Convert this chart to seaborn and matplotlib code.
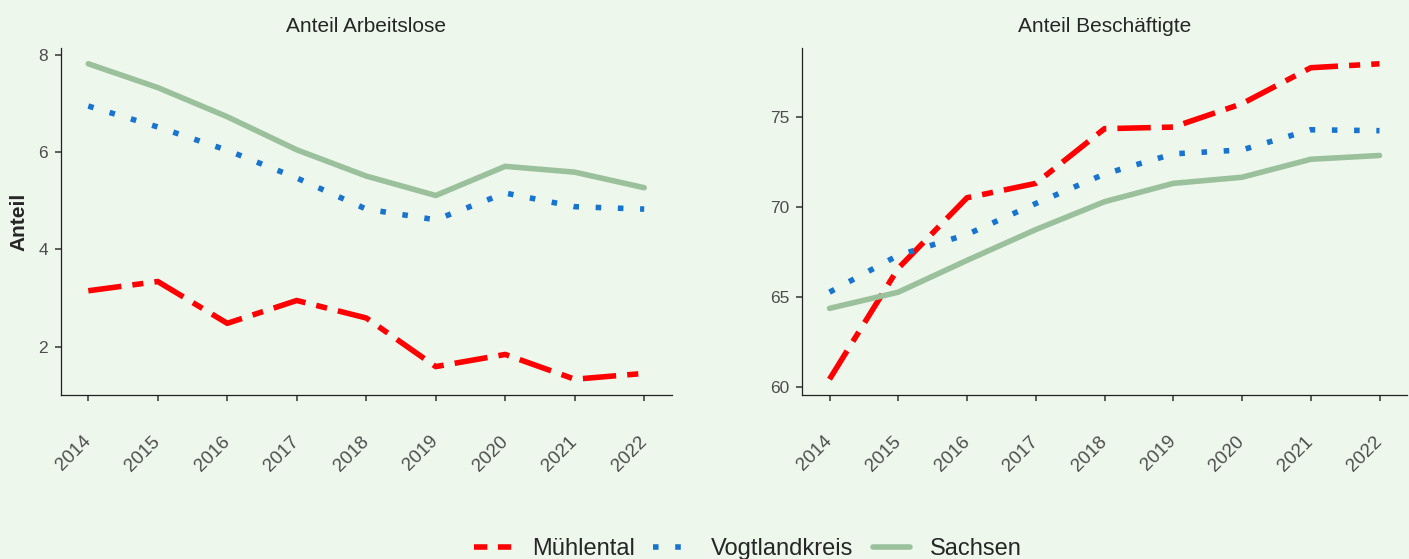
import pandas as pd
import matplotlib
matplotlib.use("Agg")
import matplotlib.pyplot as plt
import seaborn as sns
from matplotlib.lines import Line2D

# Werte
jahre = [2014, 2015, 2016, 2017, 2018, 2019, 2020, 2021, 2022]
regionen = ["Mühlental", "Vogtlandkreis", "Sachsen"]

arbeitslose_muehlental = [3.15, 3.34, 2.48, 2.95, 2.59, 1.59, 1.84, 1.33, 1.45]
arbeitslose_vogtland = [6.95, 6.52, 6.04, 5.47, 4.83, 4.61, 5.16, 4.88, 4.83]
arbeitslose_sachsen = [7.82, 7.33, 6.73, 6.05, 5.51, 5.11, 5.71, 5.59, 5.27]

beschaeftigte_muehlental = [60.43, 66.6, 70.52, 71.32, 74.36, 74.45, 75.75, 77.75, 77.97]
beschaeftigte_vogtland = [65.27, 67.32, 68.48, 70.2, 71.84, 72.96, 73.18, 74.3, 74.25]
beschaeftigte_sachsen = [64.37, 65.27, 67.04, 68.75, 70.3, 71.32, 71.66, 72.66, 72.87]

titel = ["Anteil Arbeitslose", "Anteil Beschäftigte"]
yticks_links = [2, 4, 6, 8]
yticks_rechts = [60, 65, 70, 75]

farben = {"Mühlental": "#FF0000", "Vogtlandkreis": "#1874CD", "Sachsen": "#9BC09C"}
striche = {"Mühlental": (6, 2, 2, 2), "Vogtlandkreis": (1, 3), "Sachsen": ""}
legenden_striche = {"Mühlental": (0, (2.4, 1.9)), "Vogtlandkreis": (0, (1, 3)), "Sachsen": "-"}
bg = "#EDF7EC"


def long_df(werte):
    rows = []
    for region, vals in zip(regionen, werte):
        for j, v in zip(jahre, vals):
            rows.append({"Jahr": j, "Anteil": v, "Region": region})
    return pd.DataFrame(rows)


df_al = long_df([arbeitslose_muehlental, arbeitslose_vogtland, arbeitslose_sachsen])
df_be = long_df([beschaeftigte_muehlental, beschaeftigte_vogtland, beschaeftigte_sachsen])

sns.set_style("ticks")
plt.rcParams["font.family"] = ["Liberation Sans", "DejaVu Sans"]

W, H = 1409, 559
fig = plt.figure(figsize=(W / 100, H / 100), dpi=100, facecolor=bg)
ax1 = fig.add_axes([60.5 / W, (H - 395) / H, 611.5 / W, 347 / H])
ax2 = fig.add_axes([802 / W, (H - 395) / H, 605 / W, 347 / H])

for ax, df, t, yt in [(ax1, df_al, titel[0], yticks_links), (ax2, df_be, titel[1], yticks_rechts)]:
    ax.set_facecolor(bg)
    sns.lineplot(data=df, x="Jahr", y="Anteil", hue="Region", style="Region",
                 palette=farben, dashes=striche, linewidth=4, legend=False, ax=ax)
    ax.set_title(t, fontsize=15, pad=11.5)
    ax.set_xticks(jahre)
    ax.set_yticks(yt)
    ax.set_xlabel("")
    ax.set_ylabel("")
    for side in ["top", "right"]:
        ax.spines[side].set_visible(False)
    for side in ["left", "bottom"]:
        ax.spines[side].set_color("#222222")
        ax.spines[side].set_linewidth(0.9)
    ax.tick_params(axis="both", direction="out", length=4.5, width=1.1, color="#333333",
                   labelcolor="#4D4D4D", labelsize=12.5)
    ax.tick_params(axis="y", pad=4.5)
    ax.tick_params(axis="x", pad=27, labelsize=13.5)
    plt.setp(ax.get_xticklabels(), rotation=45, ha="right", va="center", rotation_mode="anchor")

ax1.set_ylabel("Anteil", fontsize=15, fontweight="bold")
ax1.yaxis.set_label_coords(-0.052, 0.5)

handles = [Line2D([0], [0], color=farben[r], linewidth=4, linestyle=legenden_striche[r]) for r in regionen]
fig.legend(handles, regionen, loc="center", bbox_to_anchor=(748 / W, 0.018), ncol=3,
           frameon=False, fontsize=17, handlelength=1.6, handletextpad=0.85, columnspacing=0.8)

fig.savefig("out.png", dpi=100, facecolor=bg)
